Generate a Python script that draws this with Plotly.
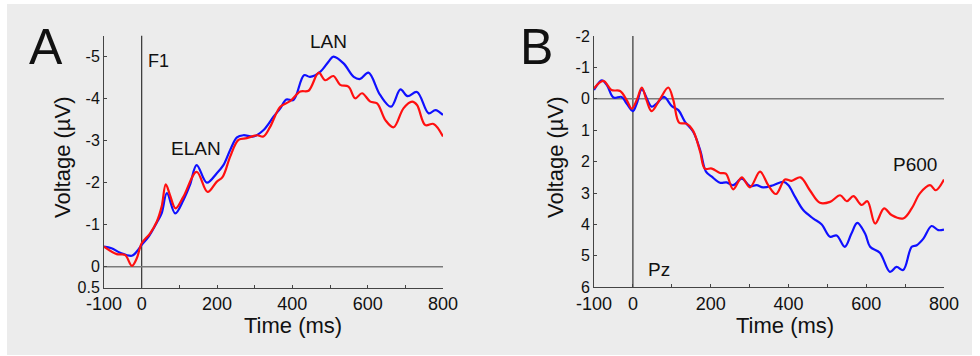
import plotly.graph_objects as go

# ---------------- data ----------------
# Panel A (F1)
a_blue_t = [-100, -80, -57, -26, -13, 0, 18, 40, 53, 67, 89, 111, 128, 146, 173, 199, 217, 235, 253, 270,
            297, 323, 350, 368, 384, 403, 431, 447, 474, 496, 509, 536, 563, 580, 602, 633, 662, 687, 706,
            731, 762, 780, 800]
a_blue_v = [-0.48, -0.44, -0.33, -0.26, -0.36, -0.52, -0.71, -1.05, -1.27, -1.75, -1.27, -1.59, -1.94, -2.42,
            -2.0, -2.22, -2.42, -2.78, -3.08, -3.13, -3.10, -3.25, -3.57, -3.77, -3.98, -3.97, -4.56, -4.52,
            -4.64, -4.88, -5.0, -4.84, -4.52, -4.47, -4.62, -4.09, -3.81, -4.22, -4.06, -4.16, -3.65, -3.73,
            -3.61]
a_red_t = [-100, -66, -44, -26, -13, 0, 22, 40, 53, 64, 75, 90, 111, 146, 175, 199, 215, 235, 257, 279, 306,
           323, 341, 368, 394, 421, 443, 470, 487, 509, 527, 549, 567, 585, 607, 625, 647, 669, 695, 718, 731,
           753, 775, 800]
a_red_v = [-0.48, -0.30, -0.28, -0.02, -0.2, -0.56, -0.79, -1.07, -1.43, -1.96, -1.71, -1.39, -1.67, -2.26,
           -1.78, -2.02, -2.14, -2.62, -3.02, -3.06, -3.13, -3.10, -3.33, -3.81, -3.94, -4.17, -4.19, -4.62,
           -4.44, -4.54, -4.33, -4.29, -4.01, -4.13, -3.93, -3.89, -3.49, -3.32, -3.77, -3.93, -3.85, -3.37,
           -3.40, -3.10]

# Panel B (Pz)
b_blue_t = [-100, -80, -67, -50, -29, -16, 0, 10, 23, 48, 61, 80, 100, 117, 134, 155, 173, 188, 203, 224, 241,
            258, 280, 301, 318, 335, 361, 387, 400, 417, 438, 464, 485, 507, 524, 545, 562, 577, 597, 610, 635,
            661, 678, 695, 717, 730, 747, 768, 785, 800]
b_blue_v = [-0.28, -0.59, -0.44, -0.04, -0.06, 0.15, 0.39, 0.15, -0.30, 0.25, 0.15, -0.06, 0.23, 0.36, 0.73,
            1.05, 1.63, 2.32, 2.48, 2.67, 2.66, 2.75, 2.54, 2.78, 2.75, 2.82, 2.75, 2.64, 2.75, 3.12, 3.54, 3.81,
            3.99, 4.39, 4.35, 4.71, 4.29, 3.95, 4.29, 4.71, 4.90, 5.51, 5.35, 5.45, 4.71, 4.66, 4.45, 4.05, 4.18,
            4.16]
b_red_t = [-100, -76, -55, -33, -16, -3, 10, 23, 35, 48, 70, 91, 104, 119, 138, 155, 173, 185, 203, 224, 239,
           258, 280, 301, 327, 348, 368, 391, 408, 431, 455, 481, 507, 533, 550, 567, 588, 603, 623, 646, 665,
           695, 717, 738, 764, 779, 800]
b_red_v = [-0.33, -0.57, -0.28, -0.25, 0.04, 0.31, 0.04, -0.36, 0.04, 0.39, 0.0, -0.36, 0.04, 0.76, 0.79, 1.02,
           1.69, 2.22, 2.22, 2.36, 2.38, 2.88, 2.50, 2.82, 2.32, 2.75, 3.03, 2.57, 2.61, 2.50, 2.91, 3.31, 3.28,
           3.07, 3.26, 3.10, 3.38, 3.26, 3.97, 3.49, 3.70, 3.81, 3.49, 3.01, 2.75, 2.91, 2.57]

x_tickvals = [-100, 0, 100, 200, 300, 400, 500, 600, 700, 800]
x_ticktext = ["-100", "0", "", "200", "", "400", "", "600", "", "800"]
a_y_tickvals = [-5, -4, -3, -2, -1, 0, 0.5]
a_y_ticktext = ["-5", "-4", "-3", "-2", "-1", "0", "0.5"]
b_y_tickvals = [-2, -1, 0, 1, 2, 3, 4, 5, 6]
b_y_ticktext = ["-2", "-1", "0", "1", "2", "3", "4", "5", "6"]

# ---------------- figure ----------------
W, H = 980, 356
FONT = "Arial, Liberation Sans, sans-serif"
BLUE = "#1010ff"
RED = "#ff1010"

fig = go.Figure()

line_style = dict(width=2.2, shape="spline", smoothing=1.0)
fig.add_trace(go.Scatter(x=a_blue_t, y=a_blue_v, mode="lines", line=dict(color=BLUE, **line_style),
                         xaxis="x", yaxis="y", showlegend=False, hoverinfo="skip"))
fig.add_trace(go.Scatter(x=a_red_t, y=a_red_v, mode="lines", line=dict(color=RED, **line_style),
                         xaxis="x", yaxis="y", showlegend=False, hoverinfo="skip"))
fig.add_trace(go.Scatter(x=b_blue_t, y=b_blue_v, mode="lines", line=dict(color=BLUE, **line_style),
                         xaxis="x2", yaxis="y2", showlegend=False, hoverinfo="skip"))
fig.add_trace(go.Scatter(x=b_red_t, y=b_red_v, mode="lines", line=dict(color=RED, **line_style),
                         xaxis="x2", yaxis="y2", showlegend=False, hoverinfo="skip"))


def px_x(p):
    return p / W


def px_y(p):
    return 1 - p / H


AXC = "#444444"
common_x = dict(range=[-100, 800], tickvals=x_tickvals, ticktext=x_ticktext, ticks="inside", ticklen=3,
                tickcolor=AXC, showline=True, linecolor=AXC, linewidth=1, showgrid=False, zeroline=False,
                tickfont=dict(family=FONT, size=18, color="#111"), fixedrange=True, automargin=False)
common_y = dict(ticks="inside", ticklen=3, tickcolor=AXC, showline=True, linecolor=AXC, linewidth=1,
                showgrid=False, zeroline=False, tickfont=dict(family=FONT, size=16, color="#111"),
                fixedrange=True, automargin=False)

fig.update_layout(
    width=W, height=H, autosize=False,
    margin=dict(l=0, r=0, t=0, b=0, pad=0, autoexpand=False),
    paper_bgcolor="white",
    plot_bgcolor="rgba(0,0,0,0)",
    xaxis=dict(domain=[px_x(104), px_x(443)], anchor="y", **common_x),
    yaxis=dict(domain=[px_y(287.7), px_y(35.7)], anchor="x", range=[0.5, -5.5],
               tickvals=a_y_tickvals, ticktext=a_y_ticktext, **common_y),
    xaxis2=dict(domain=[px_x(594), px_x(944)], anchor="y2", **common_x),
    yaxis2=dict(domain=[px_y(287.3), px_y(36)], anchor="x2", range=[6, -2],
                tickvals=b_y_tickvals, ticktext=b_y_ticktext, **common_y),
)

# gray background panel
fig.add_shape(type="rect", xref="paper", yref="paper", x0=px_x(7), x1=px_x(972), y0=px_y(355), y1=px_y(4),
              fillcolor="#ececec", line=dict(width=0), layer="below")

# zero lines and stimulus-onset lines
for xa, ya in [("x", "y"), ("x2", "y2")]:
    fig.add_shape(type="line", xref=xa, yref=ya, x0=-100, x1=800, y0=0, y1=0,
                  line=dict(color="#7a7a7a", width=1.5), layer="below")
    fig.add_shape(type="line", xref=xa, yref=ya + " domain", x0=0, x1=0, y0=0, y1=1,
                  line=dict(color="#333333", width=1.2), layer="below")

txt = dict(family=FONT, color="#111")
ann = []
# panel letters
ann.append(dict(text="A", x=px_x(46), y=px_y(47), font=dict(size=50, **txt)))
ann.append(dict(text="B", x=px_x(536), y=px_y(47), font=dict(size=50, **txt)))
# component labels
ann.append(dict(text="F1", x=px_x(158), y=px_y(61), font=dict(size=18, **txt)))
ann.append(dict(text="LAN", x=px_x(328), y=px_y(41), font=dict(size=19, **txt)))
ann.append(dict(text="ELAN", x=px_x(196), y=px_y(148), font=dict(size=19, **txt)))
ann.append(dict(text="P600", x=px_x(915), y=px_y(164), font=dict(size=19, **txt)))
ann.append(dict(text="Pz", x=px_x(659), y=px_y(269), font=dict(size=19, **txt)))
# axis titles
ann.append(dict(text="Time (ms)", x=px_x(293), y=px_y(325), font=dict(size=22, **txt)))
ann.append(dict(text="Time (ms)", x=px_x(785), y=px_y(325), font=dict(size=22, **txt)))
ann.append(dict(text="Voltage (µV)", x=px_x(62), y=px_y(157), textangle=-90, font=dict(size=22, **txt)))
ann.append(dict(text="Voltage (µV)", x=px_x(555), y=px_y(157), textangle=-90, font=dict(size=22, **txt)))

for a in ann:
    a.update(xref="paper", yref="paper", showarrow=False, xanchor="center", yanchor="middle")
    fig.add_annotation(**a)

# remove the browser's default page margin so the figure sits at the window origin
fig.write_html("out.html", config={"displayModeBar": False, "staticPlot": True},
               post_script="document.body.style.margin='0';document.body.style.overflow='hidden';")
